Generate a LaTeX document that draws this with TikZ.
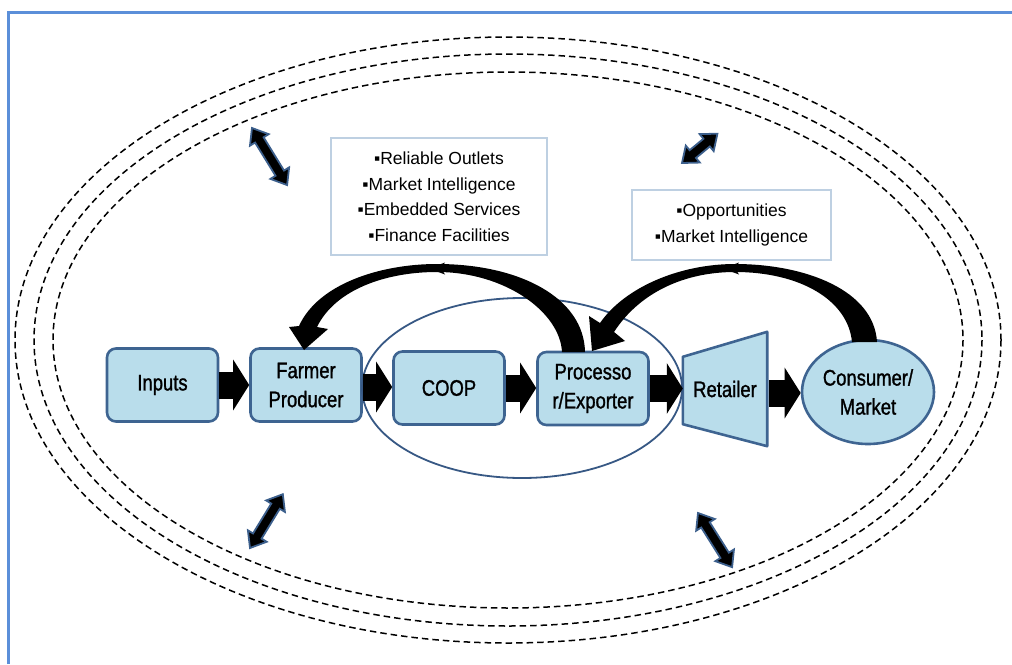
\documentclass[tikz,border=0pt]{standalone}
\usepackage{fontspec}
\setmainfont{Liberation Sans}
\newfontfamily\narrowfont{Liberation Sans}[FakeStretch=0.82,FakeBold=1.2]
\usetikzlibrary{arrows.meta,shapes.geometric}

\definecolor{boxfill}{RGB}{185,221,235}
\definecolor{boxedge}{RGB}{62,100,145}
\definecolor{groupedge}{RGB}{55,88,132}
\definecolor{frameblue}{RGB}{91,143,217}
\definecolor{noteedge}{RGB}{190,208,226}
\definecolor{arrowedge}{RGB}{60,95,140}

\tikzset{
  stage/.style={draw=boxedge, fill=boxfill, line width=2.6pt, rounded corners=9pt,
    minimum width=111pt, minimum height=73pt, align=center, inner sep=0pt,
    font=\narrowfont\fontsize{22.5}{29}\selectfont},
  note/.style={draw=noteedge, line width=1.3pt, align=center, inner sep=0pt,
    font=\fontsize{17.5}{25.5}\selectfont},
  flow/.style={line width=27pt, black, -{Triangle[length=16pt,width=50pt]}},
  zone/.style={dash pattern=on 6.5pt off 4pt, line width=1.5pt, black},
  pics/dblarrow/.style={code={
    \filldraw[draw=arrowedge, fill=black, line width=1.8pt, line join=miter]
      (0,0) -- (14,11) -- (14,5) -- (#1-14,5) -- (#1-14,11) -- (#1,0)
      -- (#1-14,-11) -- (#1-14,-5) -- (14,-5) -- (14,-11) -- cycle;
  }}
}

\begin{document}
\begin{tikzpicture}[x=1pt,y=-1pt]
\useasboundingbox (0,0) rectangle (1012,664);

% outer frame (open to the right and bottom)
\draw[frameblue, line width=3pt] (8,664) -- (8,12) -- (1012,12);

% environment rings
\draw[zone] (508,340) ellipse [x radius=493, y radius=303];
\draw[zone] (508,340) ellipse [x radius=474, y radius=286];
\draw[zone] (508,340) ellipse [x radius=455, y radius=268];

% interaction arrows between chain and environment
\pic[rotate=-58.4] at (252,128) {dblarrow=67};
\pic[rotate=39.6] at (682,163) {dblarrow=46};
\pic[rotate=58.6] at (250,548) {dblarrow=63};
\pic[rotate=-57.8] at (698,513) {dblarrow=64};

% value chain stages
\node[stage] (inputs) at (162.5,385) {Inputs};
\node[stage] (farmer) at (306,385) {Farmer\\Producer};
\node[stage] (coop) at (449,388) {COOP};
\node[stage] (proc) at (593,388.5) {Processo\\r/Exporter};
\node[inner sep=0pt, minimum width=84pt, minimum height=114pt] (retail) at (725,389) {};
\draw[draw=boxedge, fill=boxfill, line width=2.6pt, line join=round]
  ([yshift=-25pt]retail.north west) -- (retail.north east) -- (retail.south east)
  -- ([yshift=22pt]retail.south west) -- cycle;
\node[font=\narrowfont\fontsize{22.5}{29}\selectfont] (retaillabel) at (retail) {Retailer};
\node[stage, ellipse, rounded corners=0pt, minimum width=132pt, minimum height=104pt]
  (consumer) at (868,392) {Consumer/\\Market};

% grouping of cooperative and processor
\node[draw=groupedge, line width=1.8pt, ellipse, minimum width=320pt,
      minimum height=180pt, inner sep=0pt] (group) at (522,388) {};

% product flow
\draw[flow] (inputs.east) -- (inputs.east -| farmer.west);
\draw[flow] ([yshift=-2pt]farmer.east) -- ([yshift=-2pt]farmer.east -| coop.west);
\draw[flow] (coop.east) -- (coop.east -| proc.west);
\draw[flow] (proc.east) -- (proc.east -| retail.west);
\draw[flow] ([xshift=2pt,yshift=-4pt]retail.east) -- ([yshift=-4pt]retail.east -| consumer.west);

% feedback from processor to farmer
\fill[black] (304,350) -- (289,327) -- (299,326)
  .. controls (318,284) and (380,264) .. (437,264)
  .. controls (520,264) and (584,298) .. (585,352) -- (562,352)
  .. controls (560,312) and (505,272) .. (437,272)
  .. controls (385,272) and (335,290) .. (317,327) -- (328,329) -- cycle;
\fill[black] (429,268.5) -- (445,262.5) -- (441,268.5) -- (445,274.5) -- cycle;

% feedback from market to processor
\fill[black] (592,351) -- (589,316) -- (600,323)
  .. controls (625,287) and (680,264) .. (735,264)
  .. controls (805,264) and (874,290) .. (877,342) -- (852,342)
  .. controls (848,300) and (800,272) .. (735,272)
  .. controls (685,272) and (640,292) .. (614,332) -- (625,341) -- cycle;
\fill[black] (723,268.5) -- (739,262.5) -- (735,268.5) -- (739,274.5) -- cycle;

% information notes
\node[note, minimum width=216pt, minimum height=117pt] (info1) at (439,196.5)
  {▪Reliable Outlets\\▪Market Intelligence\\▪Embedded Services\\▪Finance Facilities};
\node[note, minimum width=199pt, minimum height=70pt] (info2) at (731.5,225)
  {▪Opportunities\\▪Market Intelligence};
\end{tikzpicture}
\end{document}
